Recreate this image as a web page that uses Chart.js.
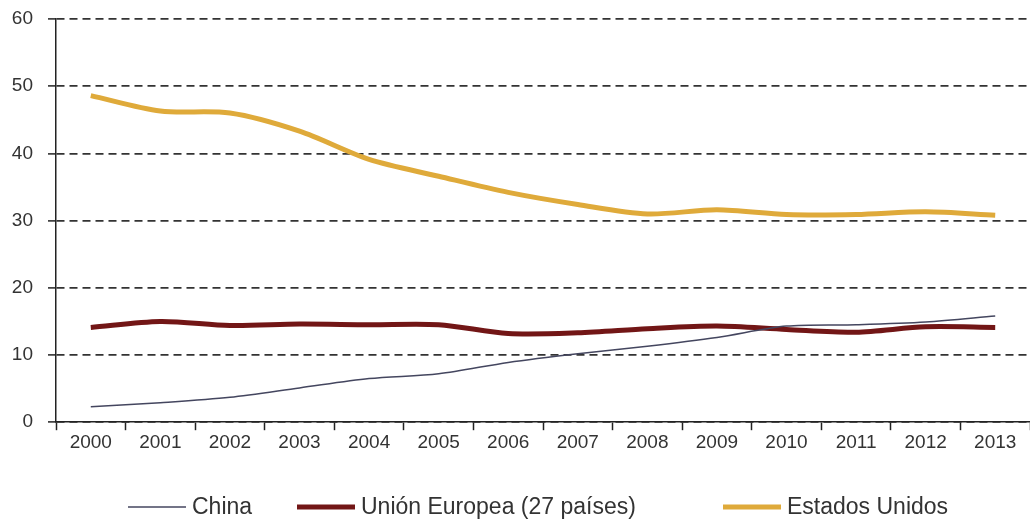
<!DOCTYPE html>
<html>
<head>
<meta charset="utf-8">
<script src="https://cdn.jsdelivr.net/npm/chart.js@4.4.0/dist/chart.umd.min.js"></script>
<style>
  html, body { margin: 0; padding: 0; background: #fff; }
  #chart { display: block; }
</style>
</head>
<body>
<canvas id="chart" width="1030" height="522"></canvas>
<script>
// Años y series (porcentaje)
const years = ['2000', '2001', '2002', '2003', '2004', '2005', '2006', '2007', '2008', '2009', '2010', '2011', '2012', '2013'];
const china = [2.3, 2.9, 3.7, 5.1, 6.5, 7.2, 8.9, 10.2, 11.3, 12.6, 14.3, 14.5, 14.9, 15.8];
const unionEuropea = [14.1, 15.0, 14.4, 14.6, 14.5, 14.5, 13.2, 13.3, 13.9, 14.3, 13.8, 13.4, 14.2, 14.1];
const estadosUnidos = [48.6, 46.3, 46.0, 43.3, 39.1, 36.6, 34.2, 32.4, 31.0, 31.6, 30.9, 30.9, 31.3, 30.8];
const seriesNames = ['China', 'Unión Europea (27 países)', 'Estados Unidos'];

const fontFamily = '"Liberation Sans", Arial, sans-serif';
const textColor = '#333333';

// Leyenda dibujada a mano: cada serie con su trazo y su nombre
const legendLayout = { y: 507, lineLength: 58, gap: 6, starts: [128, 297, 723] };
const lineLegend = {
    id: 'lineLegend',
    afterDraw(chart) {
        const ctx = chart.ctx;
        ctx.save();
        ctx.font = '23px ' + fontFamily;
        ctx.textBaseline = 'middle';
        chart.data.datasets.forEach((ds, i) => {
            const x = legendLayout.starts[i];
            const y = legendLayout.y;
            ctx.strokeStyle = ds.borderColor;
            ctx.lineWidth = ds.borderWidth;
            ctx.beginPath();
            ctx.moveTo(x, y);
            ctx.lineTo(x + legendLayout.lineLength, y);
            ctx.stroke();
            ctx.fillStyle = textColor;
            ctx.fillText(ds.label, x + legendLayout.lineLength + legendLayout.gap, y + 1);
        });
        ctx.restore();
    }
};

new Chart(document.getElementById('chart'), {
    type: 'line',
    data: {
        labels: years,
        datasets: [
            {
                label: seriesNames[0],
                data: china,
                borderColor: '#44465f',
                borderWidth: 1.5,
                pointRadius: 0,
                tension: 0.3
            },
            {
                label: seriesNames[1],
                data: unionEuropea,
                borderColor: '#721616',
                borderWidth: 5,
                pointRadius: 0,
                tension: 0.3
            },
            {
                label: seriesNames[2],
                data: estadosUnidos,
                borderColor: '#dfaa3a',
                borderWidth: 5,
                pointRadius: 0,
                tension: 0.3
            }
        ]
    },
    options: {
        responsive: false,
        animation: false,
        layout: {
            padding: { top: 19, right: 0, bottom: 67, left: 12 }
        },
        plugins: {
            legend: { display: false },
            tooltip: { enabled: false }
        },
        scales: {
            x: {
                offset: true,
                grid: {
                    offset: true,
                    drawOnChartArea: false,
                    drawTicks: true,
                    tickLength: 8,
                    tickColor: '#222',
                    tickWidth: 1.5
                },
                border: { display: true, color: '#222', width: 1.5 },
                ticks: {
                    color: textColor,
                    padding: 1,
                    maxRotation: 0,
                    font: { family: fontFamily, size: 19 }
                }
            },
            y: {
                min: 0,
                max: 60,
                afterFit(scale) {
                    scale.width = 44;
                    scale.paddingTop = 0;
                },
                ticks: {
                    stepSize: 10,
                    color: textColor,
                    padding: 15,
                    font: { family: fontFamily, size: 19 }
                },
                grid: {
                    color: '#333',
                    lineWidth: 1.8,
                    tickLength: 8,
                    tickColor: '#222',
                    tickWidth: 1.5,
                    tickBorderDash: []
                },
                border: { display: true, color: '#222', width: 1.5, dash: [8, 5] }
            }
        }
    },
    plugins: [lineLegend]
});
</script>
</body>
</html>
